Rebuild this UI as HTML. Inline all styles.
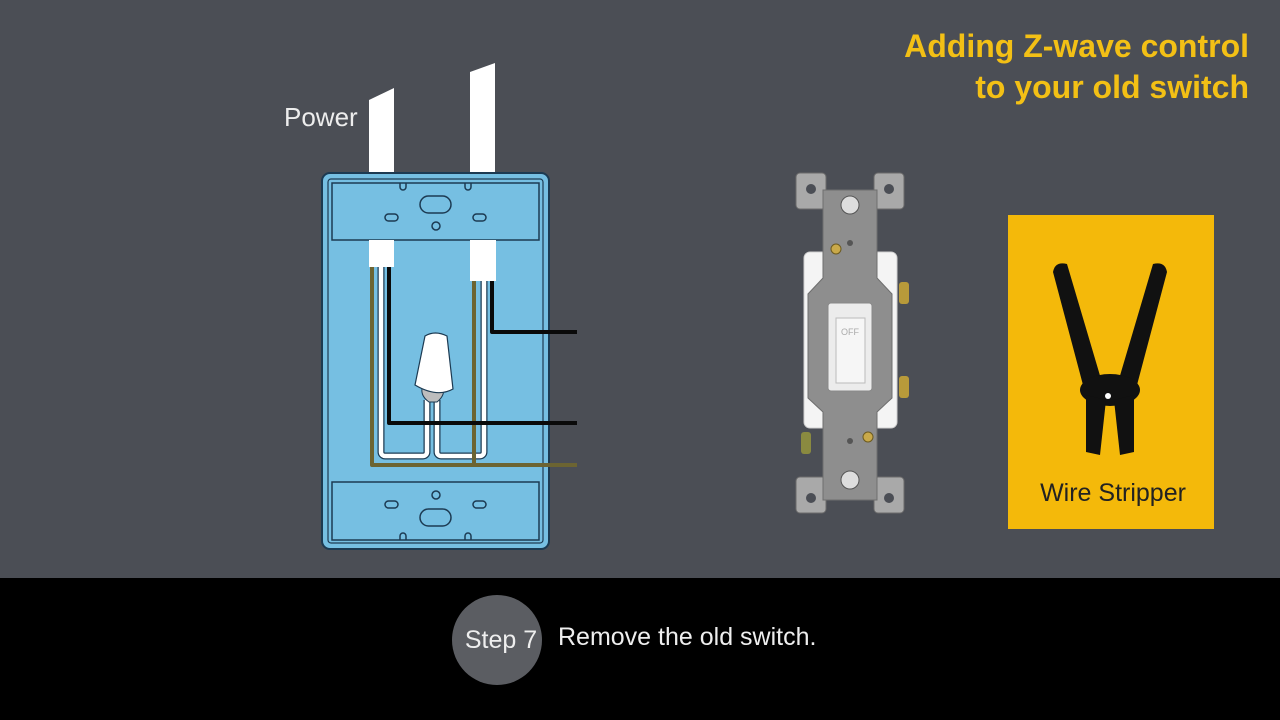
<!DOCTYPE html>
<html><head><meta charset="utf-8"><style>
html,body{margin:0;padding:0;width:1280px;height:720px;overflow:hidden;background:#4b4e55;}
svg{display:block}
text{font-family:"Liberation Sans",sans-serif}
</style></head><body>
<svg width="1280" height="720" viewBox="0 0 1280 720" xmlns="http://www.w3.org/2000/svg">
<rect width="1280" height="720" fill="#4b4e55"/>
<text x="1249" y="57" text-anchor="end" font-size="32" font-weight="bold" fill="#f3c015">Adding Z-wave control</text>
<text x="1249" y="98" text-anchor="end" font-size="32" font-weight="bold" fill="#f3c015">to your old switch</text>
<text x="284" y="126" font-size="26" fill="#ededed">Power</text>
<polygon points="369,100 394,88 394,175 369,175" fill="#fff"/>
<polygon points="470,72 495,63 495,175 470,175" fill="#fff"/>
<rect x="322" y="173" width="227" height="376" rx="8" fill="#76bfe2" stroke="#1c3a52" stroke-width="2"/>
<rect x="328" y="179" width="215" height="364" rx="3" fill="none" stroke="#1c3a52" stroke-width="1.2"/>
<rect x="332" y="183" width="207" height="57" fill="#76bfe2" stroke="#1c3a52" stroke-width="1.5"/>
<rect x="332" y="482" width="207" height="58" fill="#76bfe2" stroke="#1c3a52" stroke-width="1.5"/>
<g fill="none" stroke="#1c3a52" stroke-width="1.5">
<rect x="420" y="196" width="31" height="17" rx="8.5"/>
<rect x="385" y="214" width="13" height="7" rx="3.5"/><rect x="473" y="214" width="13" height="7" rx="3.5"/>
<circle cx="436" cy="226" r="4"/>
<rect x="420" y="509" width="31" height="17" rx="8.5"/>
<rect x="385" y="501" width="13" height="7" rx="3.5"/><rect x="473" y="501" width="13" height="7" rx="3.5"/>
<circle cx="436" cy="495" r="4"/>
<path d="M400,183 v4 a3,3 0 0 0 6,0 v-4 M465,183 v4 a3,3 0 0 0 6,0 v-4"/>
<path d="M400,540 v-4 a3,3 0 0 1 6,0 v4 M465,540 v-4 a3,3 0 0 1 6,0 v4"/>
</g>
<rect x="369" y="240" width="25" height="27" fill="#fff"/>
<rect x="470" y="240" width="26" height="41" fill="#fff"/>
<g fill="none" stroke-linejoin="round">
<path d="M381,267 V452 a4,4 0 0 0 4,4 H423 a4,4 0 0 0 4,-4 V400" stroke="#1c3a52" stroke-width="7"/>
<path d="M484,281 V452 a4,4 0 0 1 -4,4 H441 a4,4 0 0 1 -4,-4 V400" stroke="#1c3a52" stroke-width="7"/>
<path d="M381,267 V452 a4,4 0 0 0 4,4 H423 a4,4 0 0 0 4,-4 V400" stroke="#fff" stroke-width="4.5"/>
<path d="M484,281 V452 a4,4 0 0 1 -4,4 H441 a4,4 0 0 1 -4,-4 V400" stroke="#fff" stroke-width="4.5"/>
<path d="M372,267 V465 H577" stroke="#6c6432" stroke-width="4"/>
<path d="M474,281 V465" stroke="#6c6432" stroke-width="4"/>
<path d="M389,267 V423 H577" stroke="#0a0a0a" stroke-width="4"/>
<path d="M492,281 V332 H577" stroke="#0a0a0a" stroke-width="4"/>
</g>
<path d="M423,385 q-4,10 6,17 h8 q9,-7 6,-17z" fill="#bdbdbd" stroke="#1c3a52" stroke-width="1"/>
<path d="M425,336 q10,-6 22,0 l6,53 q-16,9 -38,-4z" fill="#fff" stroke="#1c3a52" stroke-width="1.2"/>
<g>
<rect x="796" y="173" width="30" height="36" rx="4" fill="#a9a9a9" stroke="#6b6b6b"/>
<rect x="874" y="173" width="30" height="36" rx="4" fill="#a9a9a9" stroke="#6b6b6b"/>
<rect x="796" y="477" width="30" height="36" rx="4" fill="#a9a9a9" stroke="#6b6b6b"/>
<rect x="874" y="477" width="30" height="36" rx="4" fill="#a9a9a9" stroke="#6b6b6b"/>
<circle cx="811" cy="189" r="5" fill="#4b4e55"/><circle cx="889" cy="189" r="5" fill="#4b4e55"/>
<circle cx="811" cy="498" r="5" fill="#4b4e55"/><circle cx="889" cy="498" r="5" fill="#4b4e55"/>
<rect x="804" y="252" width="93" height="176" rx="6" fill="#f4f4f4" stroke="#cfcfcf"/>
<path d="M823,190 H877 V278 L892,294 V398 L877,412 V500 H823 V412 L808,398 V294 L823,278Z" fill="#8e8e8e" stroke="#6e6e6e"/>
<circle cx="850" cy="205" r="9" fill="#ddd" stroke="#555"/>
<circle cx="850" cy="480" r="9" fill="#ddd" stroke="#555"/>
<circle cx="836" cy="249" r="5" fill="#c9a94a" stroke="#6c5a20"/>
<circle cx="868" cy="437" r="5" fill="#c9a94a" stroke="#6c5a20"/>
<circle cx="850" cy="243" r="3" fill="#555"/><circle cx="850" cy="441" r="3" fill="#555"/>
<rect x="899" y="282" width="10" height="22" rx="3" fill="#b89a3a"/>
<rect x="899" y="376" width="10" height="22" rx="3" fill="#b89a3a"/>
<rect x="801" y="432" width="10" height="22" rx="3" fill="#8a8a40"/>
<rect x="828" y="303" width="44" height="88" rx="3" fill="#ececec" stroke="#888"/>
<rect x="836" y="318" width="29" height="65" fill="#f6f6f6" stroke="#bbb"/>
<text x="850" y="335" text-anchor="middle" font-size="9" fill="#aaa">OFF</text>
</g>
<rect x="1008" y="215" width="206" height="314" fill="#f4b90a"/>
<g fill="#111">
<path d="M1053,272 q2,-11 14,-8 l34,115 l-18,6z"/>
<path d="M1167,272 q-2,-11 -14,-8 l-34,115 l18,6z"/>
<ellipse cx="1110" cy="390" rx="30" ry="16"/>
<polygon points="1086,395 1106,400 1100,455 1086,452"/>
<polygon points="1134,395 1114,400 1120,455 1134,452"/>
</g>
<circle cx="1108" cy="396" r="3" fill="#fff"/>
<text x="1113" y="501" text-anchor="middle" font-size="25" fill="#222">Wire Stripper</text>
<rect x="0" y="578" width="1280" height="142" fill="#000"/>
<circle cx="497" cy="640" r="45" fill="#5b5d62"/>
<text x="501" y="648" text-anchor="middle" font-size="25" fill="#eee">Step 7</text>
<text x="558" y="645" font-size="25" fill="#eee">Remove the old switch.</text>
</svg>
</body></html>
